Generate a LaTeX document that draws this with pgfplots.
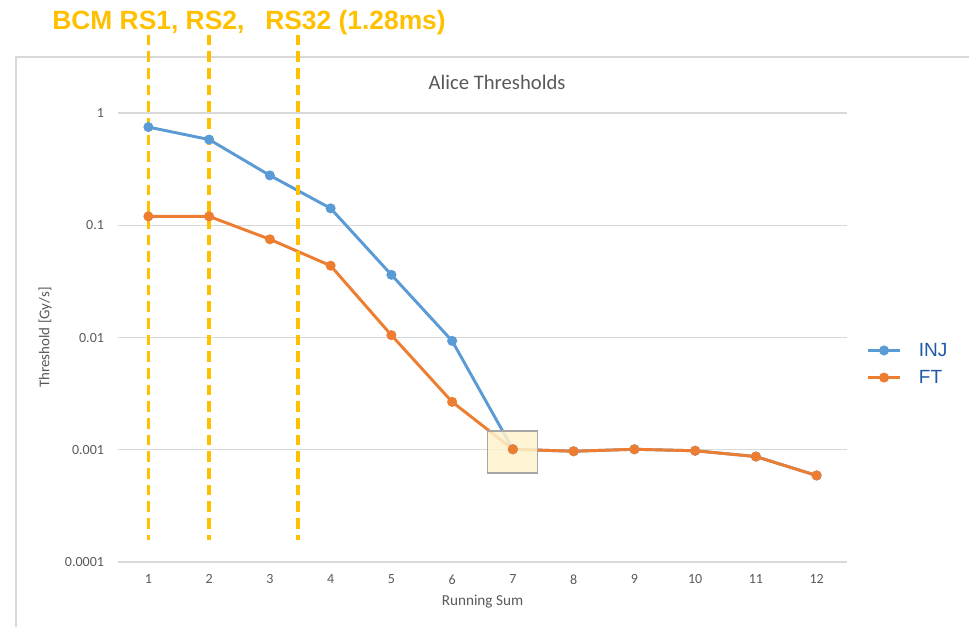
\documentclass[border=0pt]{standalone}
\usepackage{fontspec}
\setmainfont{Carlito}
\newfontfamily\arialf{Liberation Sans}
\usepackage{pgfplots}
\pgfplotsset{compat=1.18}
\definecolor{injc}{HTML}{5B9BD5}
\definecolor{ftc}{HTML}{ED7D31}
\definecolor{gold}{HTML}{FFC000}
\definecolor{gridc}{HTML}{D9D9D9}
\definecolor{txtc}{HTML}{595959}
\definecolor{legc}{HTML}{1F5AA6}
\definecolor{boxfill}{HTML}{FFF2CC}
\definecolor{boxdraw}{HTML}{A6A6A6}
\begin{document}
\begin{tikzpicture}
\useasboundingbox (0,0) rectangle (726.75pt,469.5pt);
\draw[gridc, line width=1.2pt] (12pt,-5pt) -- (12pt,426.75pt) -- (740pt,426.75pt);
\begin{axis}[
  at={(88.5pt,48pt)}, anchor=south west,
  scale only axis, width=546.75pt, height=336.75pt,
  ymode=log, ymin=1e-4, ymax=1, xmin=0.5, xmax=12.5,
  axis line style={draw=none},
  major tick length=0pt, minor tick length=0pt,
  tick style={draw=none},
  ymajorgrids, grid style={gridc, line width=1pt},
  xtick={1,2,3,4,5,6,7,8,9,10,11,12},
  xticklabels={1,2,3,4,5,6,7,8,9,10,11,12},
  ytick={1e-4,1e-3,1e-2,1e-1,1},
  yticklabels={0.0001,0.001,0.01,0.1,1},
  tick label style={font=\fontsize{10.5}{12}\selectfont, text=txtc},
  yticklabel style={xshift=-7pt},
  xticklabel style={yshift=-6pt},
  title={Alice Thresholds},
  title style={at={(axis description cs:0.52,1.051)}, anchor=center, font=\fontsize{15.5}{18}\selectfont, text=txtc},
  xlabel={Running Sum},
  xlabel style={at={(axis description cs:0.5,-0.089)}, anchor=center, font=\fontsize{11.4}{13}\selectfont, text=txtc},
  ylabel={Threshold [Gy/s]},
  ylabel style={at={(axis description cs:-0.100,0.5)}, anchor=center, font=\fontsize{11.2}{13}\selectfont, text=txtc},
  legend style={at={(axis description cs:1.021,0.441)}, anchor=west, draw=none, fill=none,
    font=\arialf\fontsize{14.3}{16}\selectfont, text=legc, row sep=5pt,
    /tikz/every odd column/.append style={column sep=11pt}},
  legend cell align=left,
  legend image code/.code={\draw[mark repeat=2,mark phase=2] plot coordinates {(0pt,0pt) (12pt,0pt) (24pt,0pt)};},
  clip=false,
]
\addplot[injc, line width=2.2pt, mark=*, mark size=2.6pt] coordinates {
  (1,0.75) (2,0.58) (3,0.278) (4,0.1415) (5,0.0362) (6,0.00933) (7,0.00101)
  (8,0.00097) (9,0.00101) (10,0.00098) (11,0.00087) (12,0.00059)};
\addlegendentry{INJ}
\addplot[ftc, line width=2.2pt, mark=*, mark size=2.6pt] coordinates {
  (1,0.12) (2,0.12) (3,0.075) (4,0.0436) (5,0.0105) (6,0.00267) (7,0.00101)
  (8,0.00097) (9,0.00101) (10,0.00098) (11,0.00087) (12,0.00059)};
\addlegendentry{FT}
\draw[boxdraw, line width=1pt, fill=boxfill, fill opacity=0.85] (axis cs:6.58,0.001472) rectangle (axis cs:7.40,0.000621);
\draw[gold, line width=2.8pt, dash pattern=on 8pt off 4.5pt] (axis cs:1,4.98) -- (axis cs:1,0.000157);
\draw[gold, line width=2.8pt, dash pattern=on 8pt off 4.5pt] (axis cs:2,4.98) -- (axis cs:2,0.000157);
\draw[gold, line width=2.8pt, dash pattern=on 8pt off 4.5pt] (axis cs:3.46,4.98) -- (axis cs:3.46,0.000157);
\end{axis}
\node[anchor=base west, inner sep=0pt, text=gold, font=\arialf\bfseries\fontsize{19.8}{22}\selectfont] at (39pt,447pt) {BCM RS1, RS2,};
\node[anchor=base west, inner sep=0pt, text=gold, font=\arialf\bfseries\fontsize{19.8}{22}\selectfont] at (198.75pt,447pt) {RS32 (1.28ms)};
\end{tikzpicture}
\end{document}
